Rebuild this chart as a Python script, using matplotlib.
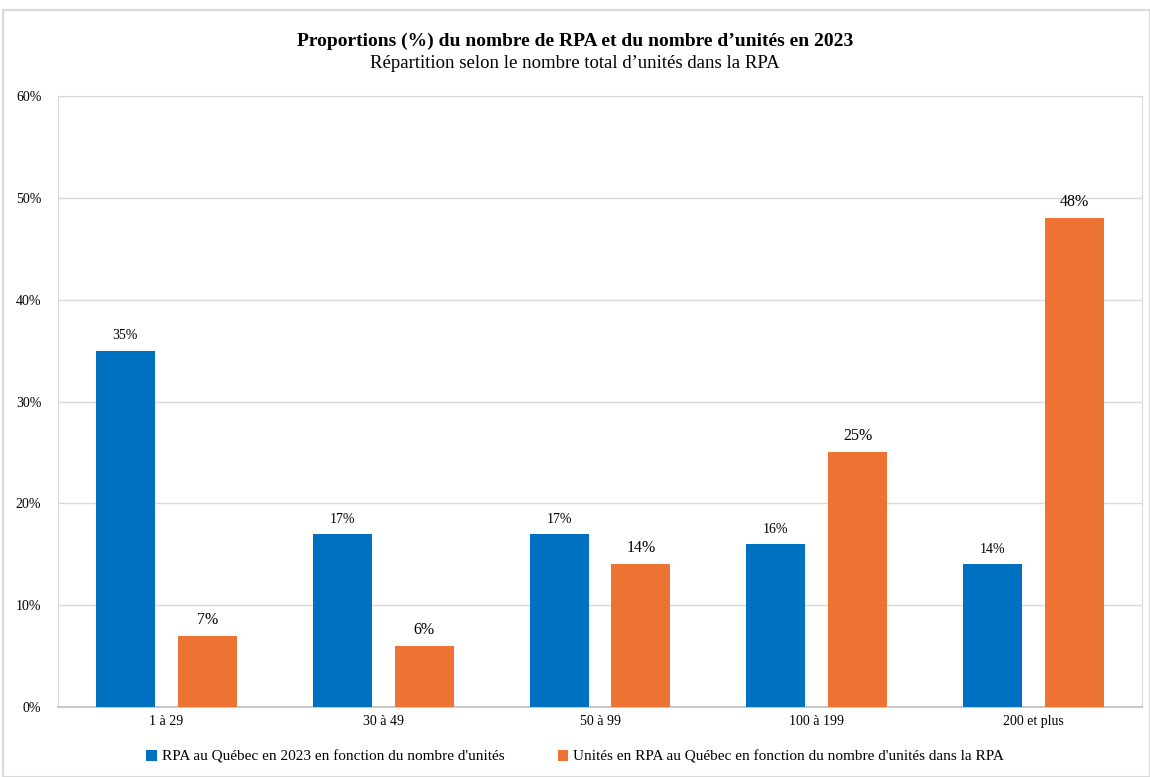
import numpy as np
import matplotlib.pyplot as plt
from matplotlib.patches import Rectangle

categories = ['1 à 29', '30 à 49', '50 à 99', '100 à 199', '200 et plus']
rpa = [35, 17, 17, 16, 14]
unites = [7, 6, 14, 25, 48]
yticks = [0, 10, 20, 30, 40, 50, 60]

blue = '#0070C0'
orange = '#ED7333'

plt.rcParams['font.family'] = ['Liberation Serif', 'DejaVu Serif']

fig = plt.figure(figsize=(11.5, 7.77), dpi=100)
ax = fig.add_axes([58 / 1150, 1 - 707 / 777, (1142 - 58) / 1150, (707 - 96) / 777])

x = np.arange(len(categories))
w = 0.272
off = 0.189
b1 = ax.bar(x - off, rpa, w, color=blue, label="RPA au Québec en 2023 en fonction du nombre d'unités", zorder=3)
b2 = ax.bar(x + off, unites, w, color=orange, label="Unités en RPA au Québec en fonction du nombre d'unités dans la RPA", zorder=3)

for r, v in zip(b1, rpa):
    ax.text(r.get_x() + r.get_width() / 2, v + 0.8, f'{v}%', ha='center', va='bottom', fontsize=10)
for r, v in zip(b2, unites):
    ax.text(r.get_x() + r.get_width() / 2, v + 0.8, f'{v}%', ha='center', va='bottom', fontsize=11.5)

ax.set_xlim(-0.5, len(categories) - 0.5)
ax.set_ylim(0, 60)
ax.set_yticks(yticks)
ax.set_yticklabels([f'{t}%' for t in yticks], fontsize=10)
ax.set_xticks(x)
ax.set_xticklabels(categories, fontsize=10)
ax.tick_params(axis='x', length=0, pad=6)
ax.tick_params(axis='y', length=0, pad=12)
ax.grid(axis='y', color='#d9d9d9', linewidth=1, zorder=0)
for s in ['top', 'left', 'right']:
    ax.spines[s].set_color('#d9d9d9')
ax.spines['bottom'].set_color('#bfbfbf')
ax.spines['bottom'].set_linewidth(1.2)

fig.text(0.5, 1 - 41 / 777, "Proportions (%) du nombre de RPA et du nombre d’unités en 2023",
         ha='center', va='center', fontsize=14, fontweight='bold')
fig.text(0.5, 1 - 64 / 777, "Répartition selon le nombre total d’unités dans la RPA",
         ha='center', va='center', fontsize=13.5)

fig.legend(loc='center', bbox_to_anchor=(0.5, 1 - 757 / 777), ncol=2, frameon=False,
           fontsize=11, handlelength=0.7, handleheight=0.7, handletextpad=0.3, columnspacing=3.5)

fig.patches.append(Rectangle((3 / 1150, 0), 1 - 3 / 1150, 1 - 10 / 777, transform=fig.transFigure,
                             fill=False, edgecolor='#d9d9d9', linewidth=1.5))

fig.savefig('out.png', dpi=100)
